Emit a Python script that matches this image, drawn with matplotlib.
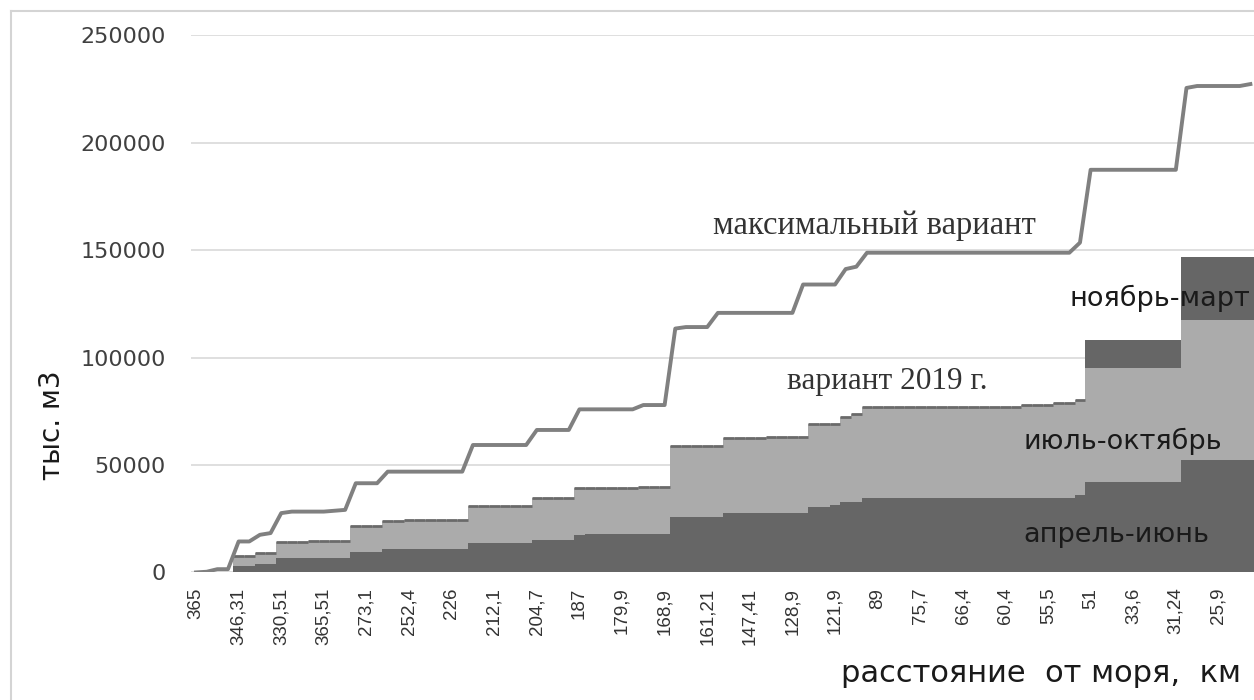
import numpy as np
import matplotlib.pyplot as plt
from matplotlib.lines import Line2D

# x-axis: distance from the sea, km (a label every 4th category)
tick_labels = ["365", "346,31", "330,51", "365,51", "273,1", "252,4", "226",
               "212,1", "204,7", "187", "179,9", "168,9", "161,21", "147,41",
               "128,9", "121,9", "89", "75,7", "66,4", "60,4", "55,5", "51",
               "33,6", "31,24", "25,9"]

# тыс. м3, one value per category (100 categories)
apr_jun = [
    0, 0, 0, 0, 2800, 2800, 4000, 4000, 6700, 6700,
    6700, 6700, 6700, 6700, 6700, 9400, 9400, 9400, 10800, 10800,
    10800, 10800, 10800, 10800, 10800, 10800, 13600, 13600, 13600, 13600,
    13600, 13600, 15200, 15200, 15200, 15200, 17200, 18000, 18000, 18000,
    18000, 18000, 18000, 18000, 18000, 26000, 26000, 26000, 26000, 26000,
    27500, 27500, 27500, 27500, 27500, 27500, 27500, 27500, 30300, 30300,
    31400, 32600, 32600, 34500, 34500, 34500, 34500, 34500, 34500, 34500,
    34500, 34500, 34500, 34500, 34500, 34500, 34500, 34500, 34500, 34500,
    34500, 34500, 34500, 36000, 42200, 42200, 42200, 42200, 42200, 42200,
    42200, 42200, 42200, 52300, 52300, 52300, 52300, 52300, 52300, 52300,
]

jul_oct = [
    0, 0, 0, 0, 4900, 4900, 5000, 5000, 7400, 7400,
    7400, 8000, 8000, 8000, 8000, 12300, 12300, 12300, 12900, 12900,
    13700, 13700, 13700, 13700, 13700, 13700, 17100, 17100, 17100, 17100,
    17100, 17100, 19300, 19300, 19300, 19300, 22000, 21200, 21200, 21200,
    21200, 21200, 21900, 21900, 21900, 32800, 32800, 32800, 32800, 32800,
    34900, 34900, 34900, 34900, 35700, 35700, 35700, 35700, 38800, 38800,
    37700, 39900, 40900, 42600, 42600, 42600, 42600, 42600, 42600, 42600,
    42600, 42600, 42600, 42600, 42600, 42600, 42600, 42600, 43400, 43400,
    43400, 44300, 44300, 44400, 52800, 52800, 52800, 52800, 52800, 52800,
    52800, 52800, 52800, 65200, 65200, 65200, 65200, 65200, 65200, 65200,
]

nov_mar = [
    0, 0, 0, 0, 0, 0, 0, 0, 0, 0,
    0, 0, 0, 0, 0, 0, 0, 0, 0, 0,
    0, 0, 0, 0, 0, 0, 0, 0, 0, 0,
    0, 0, 0, 0, 0, 0, 0, 0, 0, 0,
    0, 0, 0, 0, 0, 0, 0, 0, 0, 0,
    0, 0, 0, 0, 0, 0, 0, 0, 0, 0,
    0, 0, 0, 0, 0, 0, 0, 0, 0, 0,
    0, 0, 0, 0, 0, 0, 0, 0, 0, 0,
    0, 0, 0, 0, 13200, 13200, 13200, 13200, 13200, 13200,
    13200, 13200, 13200, 29400, 29400, 29400, 29400, 29400, 29400, 29400,
]

max_var = [
    0, 300, 1500, 1500, 14400, 14400, 17500, 18300, 27600, 28300,
    28300, 28300, 28300, 28700, 29100, 41500, 41500, 41500, 46900, 46900,
    46900, 46900, 46900, 46900, 46900, 46900, 59300, 59300, 59300, 59300,
    59300, 59300, 66300, 66300, 66300, 66300, 75900, 75900, 75900, 75900,
    75900, 75900, 77900, 77900, 77900, 113500, 114200, 114200, 114200, 120800,
    120800, 120800, 120800, 120800, 120800, 120800, 120800, 134000, 134000, 134000,
    134000, 141200, 142300, 148800, 148800, 148800, 148800, 148800, 148800, 148800,
    148800, 148800, 148800, 148800, 148800, 148800, 148800, 148800, 148800, 148800,
    148800, 148800, 148800, 153500, 187400, 187400, 187400, 187400, 187400, 187400,
    187400, 187400, 187400, 225500, 226400, 226400, 226400, 226400, 226400, 227300,
]

W, H = 1254, 700
DARK = '#666666'
LIGHT = '#ababab'

x = np.arange(len(apr_jun))
lower = np.array(apr_jun)
middle = lower + np.array(jul_oct)

fig = plt.figure(figsize=(W / 100, H / 100), dpi=100)
ax = fig.add_axes([190.7 / W, 1 - 572.4 / H, (W - 190.7) / W, (572.4 - 35.3) / H])

ax.bar(x, apr_jun, width=1.0, color=DARK, linewidth=0, antialiased=False, zorder=2)
ax.bar(x, jul_oct, width=1.0, bottom=lower, color=LIGHT, linewidth=0,
       antialiased=False, zorder=2)
ax.bar(x, nov_mar, width=1.0, bottom=middle, color=DARK, linewidth=0,
       antialiased=False, zorder=2)

# thin dark edge along the top of the light area
edge = (middle > 0) & (np.array(nov_mar) == 0)
ax.hlines(middle[edge], x[edge] - 0.5, x[edge] + 0.5, color='#6a6a6a', lw=2.0, zorder=3)

ax.plot(x, max_var, color='#808080', lw=2.8, solid_joinstyle='round', zorder=4)

ax.set_xlim(-0.5, 99.34)
ax.set_ylim(0, 250000)

yt = [0, 50000, 100000, 150000, 200000, 250000]
ax.set_yticks(yt)
ax.set_yticklabels([str(v) for v in yt], family='DejaVu Sans', fontsize=16, color='#404040')
ax.set_xticks(x[::4])
ax.set_xticklabels(tick_labels, rotation=90, family='Liberation Sans', fontsize=13.5,
                   color='#333333', va='top')
ax.tick_params(axis='y', length=0, pad=18)
ax.tick_params(axis='x', length=0, pad=11)
ax.yaxis.grid(True, color='#d9d9d9', lw=1.2)
ax.set_axisbelow(True)
for s in ax.spines.values():
    s.set_visible(False)

ser = ['Liberation Serif']
ax.text(48.5, 157500, "максимальный вариант", family=ser, fontsize=23.5,
        color='#333333', ha='left', va='baseline', zorder=5)
ax.text(55.5, 85500, "вариант 2019 г.", family=ser, fontsize=22.5,
        color='#333333', ha='left', va='baseline', zorder=5)
ax.text(82.0, 124200, "ноябрь-март", family='DejaVu Sans', fontsize=19.5,
        color='#1a1a1a', ha='left', va='baseline', zorder=5)
ax.text(77.7, 57600, "июль-октябрь", family='DejaVu Sans', fontsize=19.5,
        color='#1a1a1a', ha='left', va='baseline', zorder=5)
ax.text(77.7, 14000, "апрель-июнь", family='DejaVu Sans', fontsize=19.5,
        color='#1a1a1a', ha='left', va='baseline', zorder=5)

fig.text(1240.6 / W, 1 - 681.7 / H, "расстояние  от моря,  км", family='DejaVu Sans',
         fontsize=22, color='#1a1a1a', ha='right', va='baseline')
fig.text(52 / W, 1 - 425 / H, "тыс. м3", family='DejaVu Sans', fontsize=20,
         color='#1a1a1a', rotation=90, ha='center', va='center')

# light chart border (top and left, the rest is cropped)
fig.add_artist(Line2D([10.5 / W, 10.5 / W], [0, 1 - 11 / H], transform=fig.transFigure,
                      color='#d4d4d4', lw=1.5))
fig.add_artist(Line2D([10.5 / W, 1], [1 - 11 / H, 1 - 11 / H], transform=fig.transFigure,
                      color='#d4d4d4', lw=1.5))

fig.savefig('out.png', dpi=100)
